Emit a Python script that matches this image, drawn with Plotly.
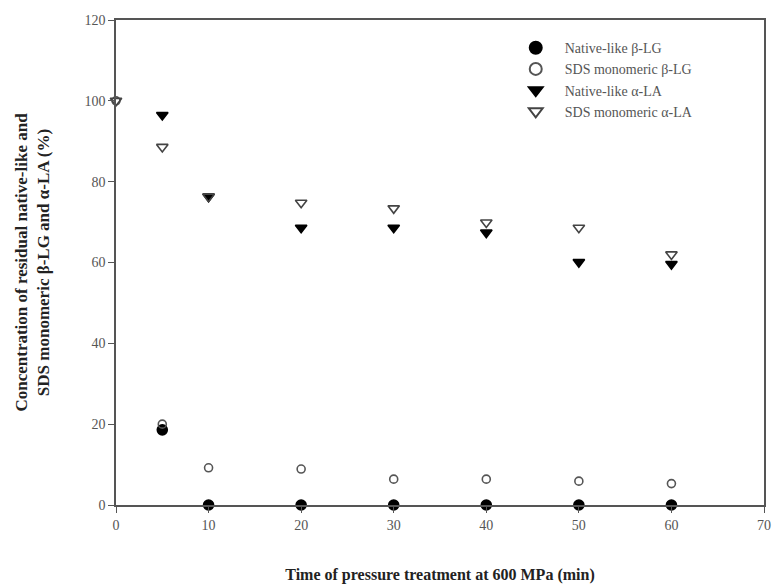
import plotly.graph_objects as go

time_min = [0, 5, 10, 20, 30, 40, 50, 60]
native_blg = [None, 18.6, 0, 0, 0, 0, 0, 0]
sds_blg = [100, 20.0, 9.2, 8.9, 6.4, 6.4, 5.9, 5.3]
native_ala = [None, 96.5, 76.3, 68.6, 68.6, 67.4, 60.1, 59.6]
sds_ala = [100, 88.6, 76.3, 74.8, 73.4, 69.9, 68.6, 62.0]

names = ["Native-like β-LG", "SDS monomeric β-LG", "Native-like α-LA", "SDS monomeric α-LA"]
series = [native_blg, sds_blg, native_ala, sds_ala]
symbols = ["circle", "circle-open", "triangle-down", "triangle-down-open"]
sizes = [10, 8, 10, 10]
colors = ["black", "#555", "black", "#444"]

fig = go.Figure()
for name, ys, sym, sz, c in zip(names, series, symbols, sizes, colors):
    fig.add_trace(go.Scatter(
        x=time_min, y=ys, mode="markers", name=name,
        marker=dict(symbol=sym, size=sz, color=c,
                    line=dict(color=c, width=1.6)),
        cliponaxis=False,
    ))

font = "Liberation Serif, Times New Roman, serif"
tickfont = dict(family=font, size=14, color="#555")
fig.update_layout(
    width=773, height=584,
    margin=dict(l=116, r=9, t=20, b=79, autoexpand=False),
    plot_bgcolor="white", paper_bgcolor="white",
    font=dict(family=font, size=14, color="#555"),
    showlegend=True,
    legend=dict(x=0.603, y=0.975, xanchor="left", yanchor="top",
                bgcolor="rgba(0,0,0,0)", font=dict(family=font, size=14, color="#555"),
                itemsizing="constant", itemwidth=48, tracegroupgap=0),
    xaxis=dict(range=[0, 70], tickvals=[0, 10, 20, 30, 40, 50, 60, 70], tickfont=tickfont,
               automargin=False,
               showline=True, linecolor="#555", linewidth=1.5, mirror=True,
               ticks="outside", ticklen=6, tickcolor="#555", showgrid=False, zeroline=False,
               title=dict(text="<b>Time of pressure treatment at 600 MPa (min)</b>",
                          font=dict(family=font, size=16, color="#222"), standoff=38)),
    yaxis=dict(range=[0, 120], tickvals=[0, 20, 40, 60, 80, 100, 120], tickfont=tickfont,
               automargin=False,
               showline=True, linecolor="#555", linewidth=1.5, mirror=True,
               ticks="outside", ticklen=6, tickcolor="#555", showgrid=False, zeroline=False,
               title=dict(text="<b>Concentration of residual native-like and<br>SDS monomeric β-LG and α-LA (%)</b>",
                          font=dict(family=font, size=17, color="#222"), standoff=30)),
)
fig.write_html(
    "out.html",
    config={"displayModeBar": False},
    post_script=(
        "document.documentElement.style.margin='0';"
        "document.documentElement.style.overflow='hidden';"
        "document.body.style.margin='0';"
        "document.body.style.overflow='hidden';"
    ),
)
